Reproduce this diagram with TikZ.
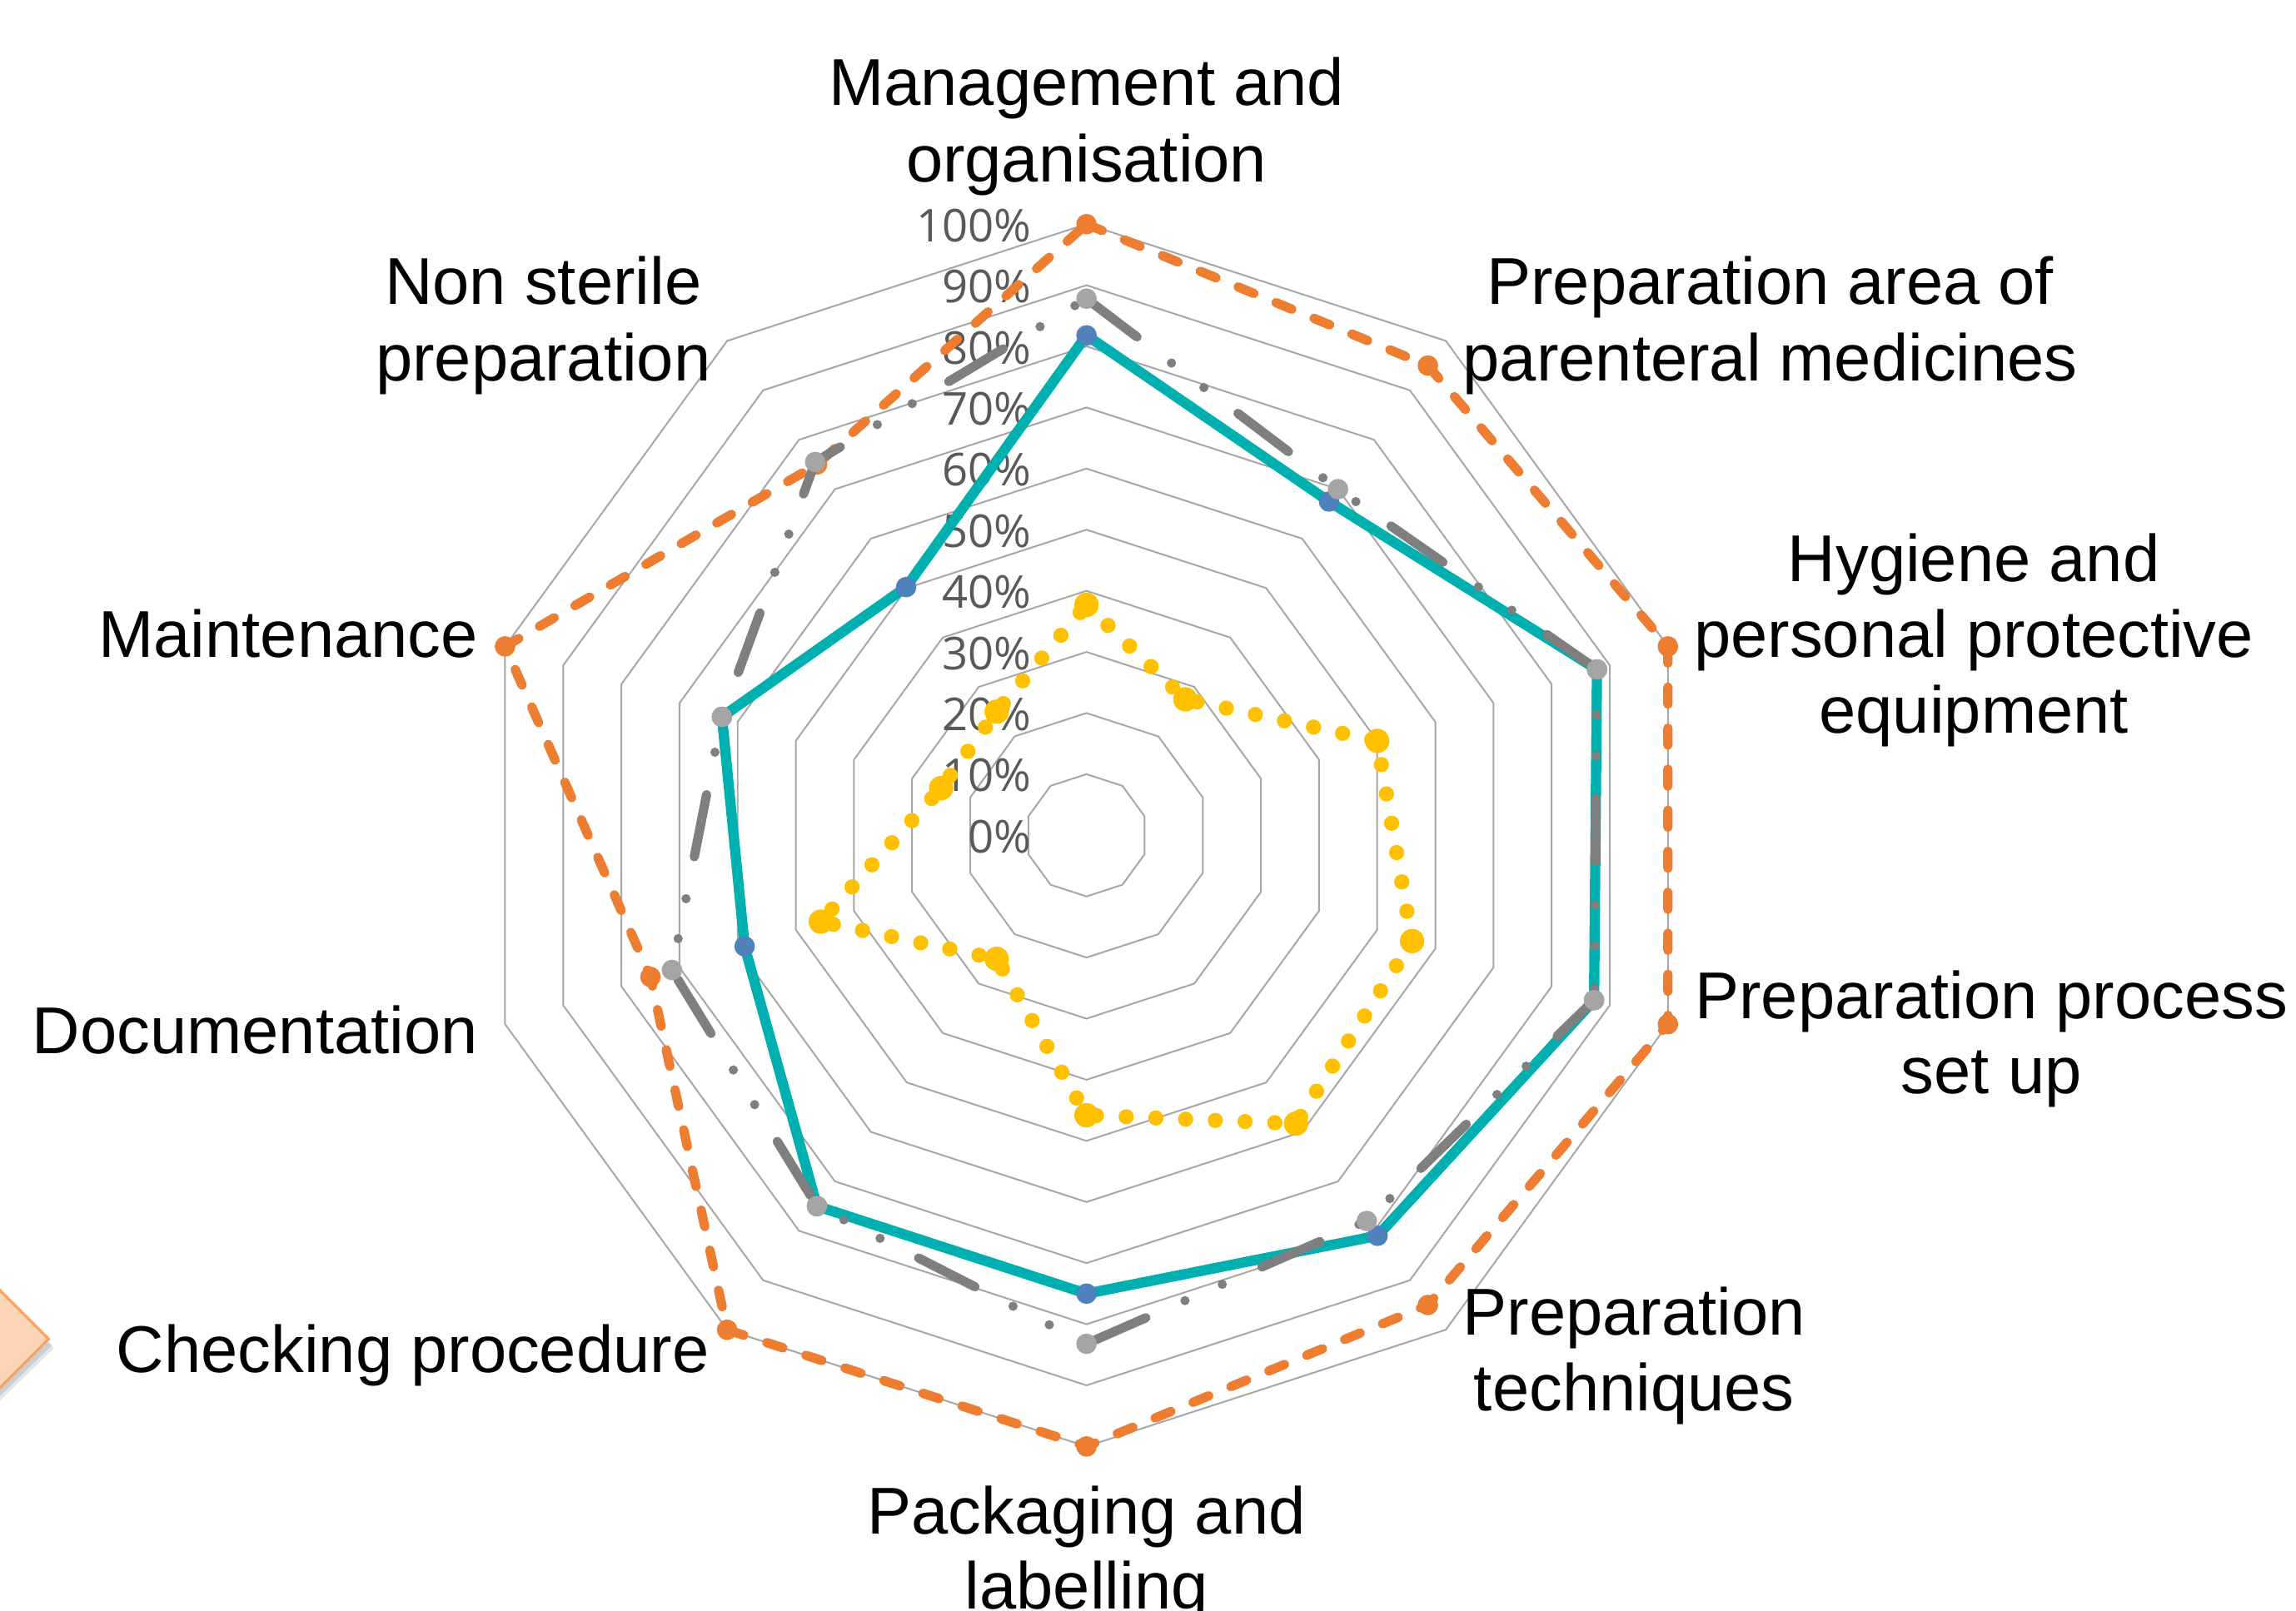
\documentclass[tikz,border=0pt]{standalone}
\usepackage{fontspec}
\setmainfont{Liberation Sans}
\newfontfamily\pctfont{Open Sans}
\definecolor{orng}{HTML}{ED7D31}
\definecolor{gline}{HTML}{7F7F7F}
\definecolor{gmark}{HTML}{A5A5A5}
\definecolor{tealc}{HTML}{00AFAF}
\definecolor{bmark}{HTML}{4F81BD}
\definecolor{ylw}{HTML}{FFC000}
\definecolor{gridc}{HTML}{A6A6A6}
\definecolor{pctc}{HTML}{595959}
\definecolor{peach}{HTML}{FBD4B4}
\definecolor{peachb}{HTML}{F4A366}
\begin{document}
\begin{tikzpicture}[x=0.01cm,y=-0.01cm,
  catlab/.style={font=\fontsize{12.86}{14.8}\selectfont, inner sep=0pt},
  pctlab/.style={font=\pctfont\fontsize{8.8}{10}\selectfont, text=pctc, inner sep=0pt, anchor=base east},
  gridline/.style={draw=gridc, line width=0.32pt, line join=miter},
  oline/.style={draw=orng, line width=1.82pt, line cap=round, line join=round, dash pattern=on 3.3pt off 4.67pt},
  gline/.style={draw=gline, line width=1.8pt, line cap=round, line join=round, dash pattern=on 12.3pt off 8.4pt on 0pt off 7.9pt on 0pt off 8.3pt},
  tline/.style={draw=tealc, line width=2.0pt, line join=round},
  yline/.style={draw=ylw, line width=2.95pt, line cap=round, dash pattern=on 0pt off 5.78pt},
  omark/.style={circle, fill=orng, inner sep=0pt, minimum size=0.14cm},
  gmarker/.style={circle, fill=gmark, inner sep=0pt, minimum size=0.14cm},
  bmarker/.style={circle, fill=bmark, inner sep=0pt, minimum size=0.14cm},
  ymarker/.style={circle, fill=ylw, inner sep=0pt, minimum size=0.166cm}
]
\useasboundingbox (0,0) rectangle (1568,1100);

% peach shape at the left edge
\fill[black, opacity=0.10] (-20,866) -- (37,921) -- (-20,976) -- cycle;
\fill[black, opacity=0.10] (-20,864) -- (35.5,919) -- (-20,973) -- cycle;
\filldraw[fill=peach, draw=peachb, line width=0.5pt] (-20,861.5) -- (33.2,914.7) -- (-20,968) -- cycle;

\begin{scope}[shift={(742,570.6)}]
  % grid decagons
  \foreach \k in {1,...,10} {
    \draw[gridline] (-90:{41.75*\k}) \foreach \j in {1,...,9} { -- ({-90+36*\j}:{41.75*\k}) } -- cycle;
  }
\end{scope}

% percentage labels
\foreach \k in {0,...,10} {
  \pgfmathtruncatemacro\pc{10*\k}
  \node[pctlab] (p\k) at (705, {582.6-41.75*\k}) {\pc\%};
}

% category labels
\node[catlab, anchor=base] (l0a) at (742,72) {Management and};
\node[catlab, anchor=base] (l0b) at (742,124) {organisation};
\node[catlab, anchor=base] (l1a) at (1209,208) {Preparation area of};
\node[catlab, anchor=base] (l1b) at (1209,260) {parenteral medicines};
\node[catlab, anchor=base] (l2a) at (1348,397) {Hygiene and};
\node[catlab, anchor=base] (l2b) at (1348,449) {personal protective};
\node[catlab, anchor=base] (l2c) at (1348,501) {equipment};
\node[catlab, anchor=base] (l3a) at (1360,696) {Preparation process};
\node[catlab, anchor=base] (l3b) at (1360,747) {set up};
\node[catlab, anchor=base] (l4a) at (1116,912) {Preparation};
\node[catlab, anchor=base] (l4b) at (1116,964) {techniques};
\node[catlab, anchor=base] (l5a) at (742,1048) {Packaging and};
\node[catlab, anchor=base] (l5b) at (742,1099) {labelling};
\node[catlab, anchor=base east] (l6) at (485,937.5) {Checking procedure};
\node[catlab, anchor=base east] (l7) at (327,720) {Documentation};
\node[catlab, anchor=base east] (l8) at (327,449) {Maintenance};
\node[catlab, anchor=base] (l9a) at (371,208) {Non sterile};
\node[catlab, anchor=base] (l9b) at (371,260) {preparation};

% data points
\begin{scope}[shift={(742,570.6)}]
  \foreach \v [count=\i from 0] in {37.7,27.5,50,56,58.3,45.8,25,45.7,25,25}
    \coordinate (y\i) at ({-90+36*\i}:{4.175*\v});
  \foreach \v [count=\i from 0] in {100,95,100,100,95,100,100,75,100,75}
    \coordinate (o\i) at ({-90+36*\i}:{4.175*\v});
  \foreach \v [count=\i from 0] in {81.8,67.5,87.8,87.3,81,75,75,58.8,62.7,50.2}
    \coordinate (t\i) at ({-90+36*\i}:{4.175*\v});
  \foreach \v [count=\i from 0] in {87.8,70,87.8,87.3,78,83.2,75,71.3,62.7,75.5}
    \coordinate (g\i) at ({-90+36*\i}:{4.175*\v});
\end{scope}

% yellow series
\draw[yline] (y0) -- (y1) -- (y2) -- (y3) -- (y4) -- (y5) -- (y6) -- (y7) -- (y8) -- (y9) -- cycle;
\foreach \i in {0,...,9} \node[ymarker] (ym\i) at (y\i) {};

% orange series
\draw[oline] (o0) -- (o1) -- (o2) -- (o3) -- (o4) -- (o5) -- (o6) -- (o7) -- (o8) -- (o9) -- cycle;
\foreach \i in {0,...,9} \node[omark] (om\i) at (o\i) {};

% teal series
\draw[tline] (t0) -- (t1) -- (t2) -- (t3) -- (t4) -- (t5) -- (t6) -- (t7) -- (t8) -- (t9) -- cycle;
\foreach \i in {0,...,9} \node[bmarker] (tm\i) at (t\i) {};

% gray series
\draw[gline] (g0) -- (g1) -- (g2) -- (g3) -- (g4) -- (g5) -- (g6) -- (g7) -- (g8) -- (g9) -- cycle;
\foreach \i in {0,...,9} \node[gmarker] (gm\i) at (g\i) {};
\end{tikzpicture}
\end{document}
